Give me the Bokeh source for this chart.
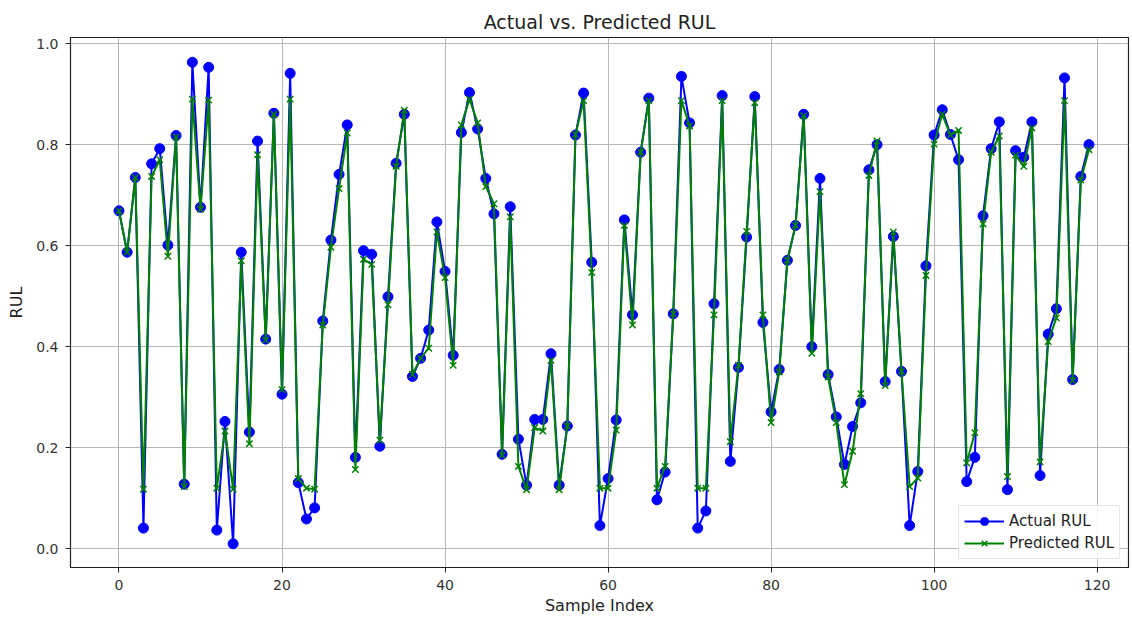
from bokeh.plotting import figure
from bokeh.models import Range1d, NumeralTickFormatter, FixedTicker, Legend
from bokeh.embed import file_html
from bokeh.resources import INLINE

sample_index = list(range(120))
actual_rul = [
    0.669, 0.587, 0.735, 0.041, 0.762, 0.792, 0.601, 0.818, 0.128, 0.963,
    0.676, 0.953, 0.037, 0.252, 0.010, 0.587, 0.231, 0.807, 0.415, 0.862,
    0.306, 0.941, 0.131, 0.059, 0.081, 0.451, 0.611, 0.741, 0.839, 0.181,
    0.590, 0.583, 0.203, 0.499, 0.763, 0.860, 0.341, 0.377, 0.433, 0.647,
    0.549, 0.383, 0.824, 0.903, 0.831, 0.733, 0.663, 0.187, 0.677, 0.217,
    0.126, 0.256, 0.256, 0.386, 0.126, 0.243, 0.819, 0.902, 0.567, 0.046,
    0.139, 0.255, 0.651, 0.463, 0.785, 0.892, 0.097, 0.152, 0.465, 0.935,
    0.843, 0.041, 0.075, 0.485, 0.897, 0.173, 0.359, 0.617, 0.895, 0.448,
    0.271, 0.355, 0.571, 0.640, 0.860, 0.400, 0.733, 0.345, 0.261, 0.167,
    0.242, 0.289, 0.750, 0.800, 0.331, 0.618, 0.351, 0.046, 0.153, 0.560,
    0.819, 0.869, 0.820, 0.770, 0.133, 0.181, 0.659, 0.792, 0.845, 0.117,
    0.788, 0.775, 0.845, 0.145, 0.425, 0.475, 0.932, 0.335, 0.737, 0.800,
]
predicted_rul = [
    0.669, 0.587, 0.735, 0.118, 0.737, 0.770, 0.579, 0.815, 0.123, 0.890,
    0.672, 0.888, 0.120, 0.233, 0.118, 0.570, 0.208, 0.780, 0.413, 0.860,
    0.315, 0.890, 0.139, 0.120, 0.118, 0.443, 0.597, 0.713, 0.823, 0.157,
    0.573, 0.563, 0.215, 0.483, 0.757, 0.868, 0.345, 0.377, 0.397, 0.627,
    0.537, 0.363, 0.839, 0.890, 0.843, 0.717, 0.683, 0.185, 0.657, 0.163,
    0.117, 0.240, 0.233, 0.373, 0.117, 0.243, 0.820, 0.887, 0.547, 0.120,
    0.120, 0.235, 0.640, 0.443, 0.785, 0.887, 0.120, 0.163, 0.465, 0.887,
    0.837, 0.120, 0.120, 0.463, 0.887, 0.212, 0.363, 0.628, 0.883, 0.463,
    0.250, 0.350, 0.571, 0.640, 0.857, 0.387, 0.707, 0.340, 0.250, 0.127,
    0.193, 0.307, 0.739, 0.807, 0.323, 0.627, 0.351, 0.123, 0.140, 0.541,
    0.801, 0.860, 0.819, 0.828, 0.170, 0.230, 0.643, 0.785, 0.817, 0.143,
    0.779, 0.757, 0.833, 0.172, 0.410, 0.457, 0.887, 0.333, 0.730, 0.790,
]
x_ticks = [0, 20, 40, 60, 80, 100, 120]
y_ticks = [0.0, 0.2, 0.4, 0.6, 0.8, 1.0]

FONT = "DejaVu Sans"

p = figure(
    width=1130, height=617,
    output_backend="svg", toolbar_location=None,
    x_range=Range1d(-5.95, 123.85), y_range=Range1d(-0.037, 1.012),
    title="Actual vs. Predicted RUL",
    min_border_left=70, min_border_right=2, min_border_top=37, min_border_bottom=48,
)

p.title.align = "center"
p.title.text_font = FONT
p.title.text_font_size = "19px"
p.title.text_font_style = "normal"
p.title.text_color = "#222222"
p.title.standoff = 9

p.outline_line_color = "#222222"
p.outline_line_width = 1.2

for ax in (p.xaxis[0], p.yaxis[0]):
    ax.axis_line_color = "#222222"
    ax.major_tick_line_color = "#222222"
    ax.major_tick_out = 5
    ax.major_tick_in = 0
    ax.minor_tick_line_color = None
    ax.major_label_text_font = FONT
    ax.major_label_text_font_size = "14px"
    ax.major_label_text_color = "#333333"
    ax.major_label_standoff = 7
    ax.axis_label_text_font = FONT
    ax.axis_label_text_font_size = "16px"
    ax.axis_label_text_font_style = "normal"
    ax.axis_label_text_color = "#222222"

p.xaxis[0].ticker = FixedTicker(ticks=x_ticks)
p.yaxis[0].ticker = FixedTicker(ticks=y_ticks)
p.yaxis[0].formatter = NumeralTickFormatter(format="0.0")
p.xaxis[0].axis_label = "Sample Index"
p.yaxis[0].axis_label = "RUL"
p.xaxis[0].axis_label_standoff = 3
p.yaxis[0].axis_label_standoff = 7

p.xgrid.grid_line_color = "#b8b8b8"
p.ygrid.grid_line_color = "#b8b8b8"
p.xgrid.grid_line_width = 1
p.ygrid.grid_line_width = 1

l1 = p.line(sample_index, actual_rul, line_color="blue", line_width=2)
s1 = p.scatter(sample_index, actual_rul, marker="circle", size=10,
               fill_color="blue", line_color="blue")
l2 = p.line(sample_index, predicted_rul, line_color="green", line_width=2)
s2 = p.scatter(sample_index, predicted_rul, marker="x", size=9,
               line_color="green", line_width=1.5)

legend = Legend(items=[("Actual RUL", [l1, s1]), ("Predicted RUL", [l2, s2])],
                location="bottom_right")
legend.label_text_font = FONT
legend.label_text_font_size = "15px"
legend.label_text_color = "#222222"
legend.border_line_color = "#cccccc"
legend.background_fill_alpha = 0.85
legend.glyph_width = 40
legend.spacing = 2
legend.padding = 5
legend.margin = 8
p.add_layout(legend, "center")

open("out.html", "w").write(file_html(p, INLINE))
